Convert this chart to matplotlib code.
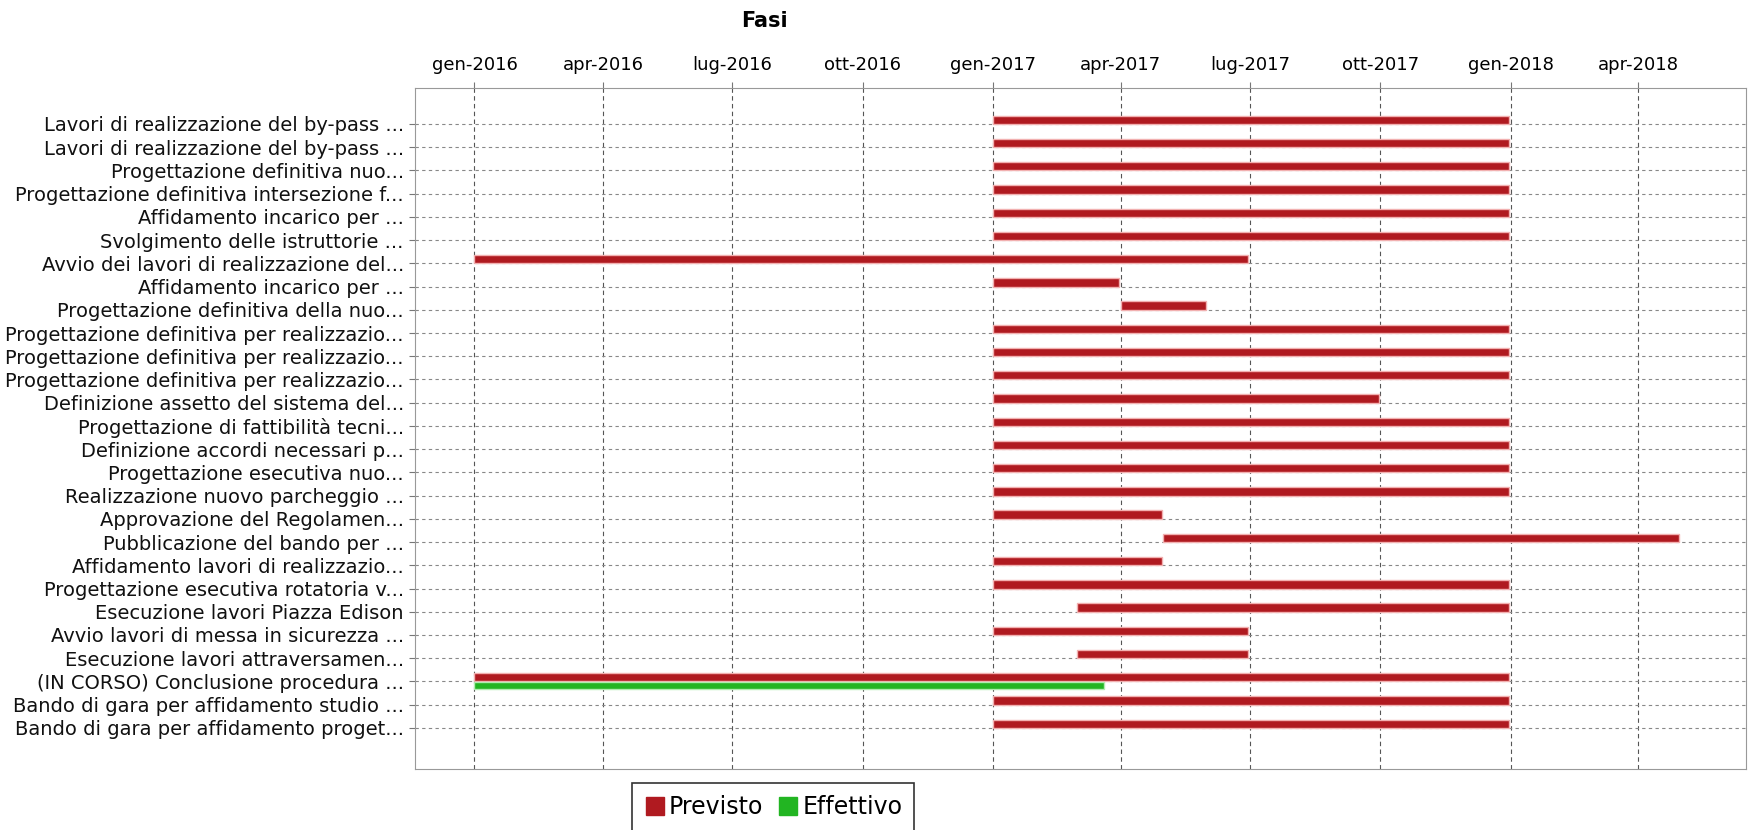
import matplotlib
matplotlib.use('Agg')
import matplotlib.pyplot as plt
import matplotlib.dates as mdates
from matplotlib.lines import Line2D
import pandas as pd

# Fasi (top to bottom)
fasi = [
    'Lavori di realizzazione del by-pass ...',
    'Lavori di realizzazione del by-pass ...',
    'Progettazione definitiva nuo...',
    'Progettazione definitiva intersezione f...',
    'Affidamento incarico per ...',
    'Svolgimento delle istruttorie ...',
    'Avvio dei lavori di realizzazione del...',
    'Affidamento incarico per ...',
    'Progettazione definitiva della nuo...',
    'Progettazione definitiva per realizzazio...',
    'Progettazione definitiva per realizzazio...',
    'Progettazione definitiva per realizzazio...',
    'Definizione assetto del sistema del...',
    'Progettazione di fattibilità tecni...',
    'Definizione accordi necessari p...',
    'Progettazione esecutiva nuo...',
    'Realizzazione nuovo parcheggio ...',
    'Approvazione del Regolamen...',
    'Pubblicazione del bando per ...',
    'Affidamento lavori di realizzazio...',
    'Progettazione esecutiva rotatoria v...',
    'Esecuzione lavori Piazza Edison',
    'Avvio lavori di messa in sicurezza ...',
    'Esecuzione lavori attraversamen...',
    '(IN CORSO) Conclusione procedura ...',
    'Bando di gara per affidamento studio ...',
    'Bando di gara per affidamento proget...',
]

previsto_inizio = [
    '2017-01-01', '2017-01-01', '2017-01-01', '2017-01-01', '2017-01-01',
    '2017-01-01', '2016-01-01', '2017-01-01', '2017-04-01', '2017-01-01',
    '2017-01-01', '2017-01-01', '2017-01-01', '2017-01-01', '2017-01-01',
    '2017-01-01', '2017-01-01', '2017-01-01', '2017-05-01', '2017-01-01',
    '2017-01-01', '2017-03-01', '2017-01-01', '2017-03-01', '2016-01-01',
    '2017-01-01', '2017-01-01',
]
previsto_fine = [
    '2017-12-31', '2017-12-31', '2017-12-31', '2017-12-31', '2017-12-31',
    '2017-12-31', '2017-06-30', '2017-03-31', '2017-05-31', '2017-12-31',
    '2017-12-31', '2017-12-31', '2017-09-30', '2017-12-31', '2017-12-31',
    '2017-12-31', '2017-12-31', '2017-04-30', '2018-04-30', '2017-04-30',
    '2017-12-31', '2017-12-31', '2017-06-30', '2017-06-30', '2017-12-31',
    '2017-12-31', '2017-12-31',
]

# only one phase has an actual (effettivo) period
effettivo_riga = [24]
effettivo_inizio = ['2016-01-01']
effettivo_fine = ['2017-03-20']

mesi = ['gen', 'feb', 'mar', 'apr', 'mag', 'giu',
        'lug', 'ago', 'set', 'ott', 'nov', 'dic']

RED = '#b01a20'
GREEN = '#22b522'

fig = plt.figure(figsize=(17.53, 8.30), dpi=100)
ax = fig.add_axes([0.2367, 0.0735, 0.996 - 0.2367, 0.894 - 0.0735])

p0 = mdates.date2num(pd.to_datetime(previsto_inizio))
p1 = mdates.date2num(pd.to_datetime(previsto_fine))
rows = list(range(len(fasi)))
ax.barh([r - 0.18 for r in rows], p1 - p0, left=p0, height=0.36,
        color=RED, edgecolor='#f2b0b0', linewidth=1.0, zorder=3)

e0 = mdates.date2num(pd.to_datetime(effettivo_inizio))
e1 = mdates.date2num(pd.to_datetime(effettivo_fine))
ax.barh([r + 0.16 for r in effettivo_riga], e1 - e0, left=e0, height=0.3,
        color=GREEN, edgecolor='#b0ecb0', linewidth=1.0, zorder=3)

ax.set_ylim(len(fasi) - 1 + 1.77, -1.55)
ax.set_yticks(rows)
ax.set_yticklabels(fasi, fontsize=14, color='#111111')
ax.set_xlim(mdates.date2num(pd.Timestamp('2015-11-20')),
            mdates.date2num(pd.Timestamp('2018-06-16')))

ax.xaxis.tick_top()
ax.xaxis.set_major_locator(mdates.MonthLocator(bymonth=[1, 4, 7, 10]))
ax.xaxis.set_major_formatter(plt.FuncFormatter(
    lambda x, pos: f"{mesi[mdates.num2date(x).month - 1]}-{mdates.num2date(x).year}"))
ax.tick_params(axis='x', labelsize=13, length=4, color='#777777', pad=6)
ax.tick_params(axis='y', length=4, color='#777777', pad=4)

ax.grid(True, axis='x', linestyle=(0, (4, 3)), color='#555555', linewidth=0.8, zorder=1)
ax.grid(True, axis='y', linestyle=(0, (3, 3)), color='#888888', linewidth=0.8, zorder=1)
for s in ax.spines.values():
    s.set_color('#999999')

fig.text(0.436, 0.975, 'Fasi', ha='center', va='center', fontsize=15, fontweight='bold')

handles = [Line2D([], [], marker='s', linestyle='', color=RED, markersize=13),
           Line2D([], [], marker='s', linestyle='', color=GREEN, markersize=13)]
leg = fig.legend(handles, ['Previsto', 'Effettivo'], loc='upper center',
                 bbox_to_anchor=(0.441, 0.0566), borderaxespad=0, ncol=2,
                 fontsize=17, frameon=True, fancybox=False, edgecolor='black',
                 handletextpad=0.15, columnspacing=0.6, borderpad=0.5,
                 handlelength=0.9)
leg.get_frame().set_linewidth(1.2)

fig.savefig('out.png', dpi=100, facecolor='white')
